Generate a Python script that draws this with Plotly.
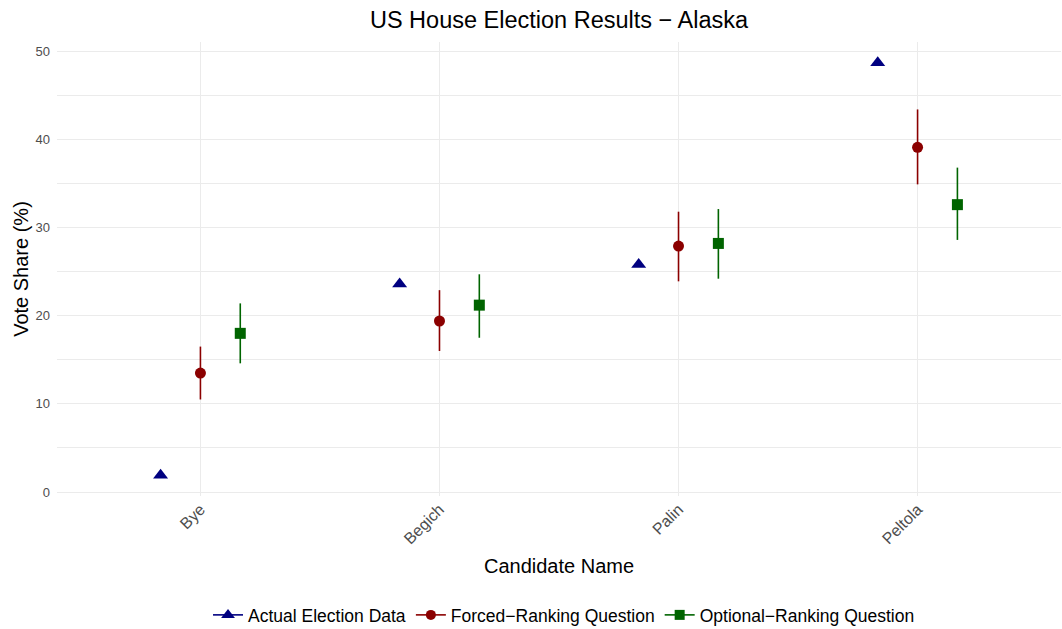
import plotly.graph_objects as go

# Candidates and vote shares (%)
candidates = ["Bye", "Begich", "Palin", "Peltola"]

actual = [1.9, 23.6, 25.8, 48.7]

forced = [13.5, 19.4, 27.9, 39.1]
forced_lo = [10.5, 16.0, 23.9, 34.9]
forced_hi = [16.5, 22.9, 31.8, 43.4]

optional = [18.0, 21.2, 28.2, 32.6]
optional_lo = [14.6, 17.5, 24.2, 28.6]
optional_hi = [21.4, 24.7, 32.1, 36.8]

series_names = ["Actual Election Data", "Forced\u2212Ranking Question", "Optional\u2212Ranking Question"]
colors = ["#000080", "#8B0000", "#006400"]
symbols = ["triangle-up", "circle", "square"]
sizes = [13, 11, 11]
dodge = [-1 / 6, 0.0, 1 / 6]

FONT = "Liberation Sans, Arial, sans-serif"

fig = go.Figure()

base_x = list(range(len(candidates)))


def shifted(off):
    return [x + off for x in base_x]


# Actual results (no interval)
fig.add_trace(go.Scatter(
    x=shifted(dodge[0]), y=actual, mode="markers", showlegend=False,
    marker=dict(symbol=symbols[0], size=sizes[0], color=colors[0], line=dict(width=0)),
    hoverinfo="y",
))

# Survey estimates with intervals
for i, (vals, lo, hi) in enumerate([(forced, forced_lo, forced_hi),
                                     (optional, optional_lo, optional_hi)], start=1):
    fig.add_trace(go.Scatter(
        x=shifted(dodge[i]), y=vals, mode="markers", showlegend=False,
        marker=dict(symbol=symbols[i], size=sizes[i], color=colors[i], line=dict(width=0)),
        error_y=dict(type="data", symmetric=False,
                     array=[h - v for h, v in zip(hi, vals)],
                     arrayminus=[v - l for v, l in zip(vals, lo)],
                     color=colors[i], thickness=1.6, width=0),
        hoverinfo="y",
    ))

# Legend keys (point with line through it)
for i in range(3):
    fig.add_trace(go.Scatter(
        x=[None], y=[None], mode="lines+markers", name=series_names[i],
        marker=dict(symbol=symbols[i], size=sizes[i] - 1, color=colors[i], line=dict(width=0)),
        line=dict(color=colors[i], width=1.6),
    ))

fig.update_layout(
    width=1062, height=629,
    margin=dict(l=57, r=1, t=42, b=133, autoexpand=False),
    paper_bgcolor="white", plot_bgcolor="white",
    font=dict(family=FONT, color="black"),
    title=dict(text="US House Election Results \u2212 Alaska", x=0.5, xref="paper",
               xanchor="center", y=1 - 20 / 629, yanchor="middle",
               font=dict(size=23.5, color="black", family=FONT)),
    xaxis=dict(
        range=[-0.6, 3.6], tickmode="array", tickvals=base_x, ticktext=candidates,
        tickangle=-45, showgrid=True, gridcolor="#EBEBEB", gridwidth=1.2,
        zeroline=False, showline=False, ticks="", automargin=False,
        tickfont=dict(size=16, color="#4D4D4D", family=FONT),
        title=dict(text="Candidate Name", font=dict(size=20, color="black", family=FONT), standoff=12),
    ),
    yaxis=dict(
        range=[-0.45, 51.05], tickmode="linear", tick0=0, dtick=10,
        showgrid=True, gridcolor="#EBEBEB", gridwidth=1.2,
        minor=dict(dtick=5, showgrid=True, gridcolor="#EBEBEB", gridwidth=0.6),
        zeroline=False, showline=False, ticks="", automargin=False,
        tickfont=dict(size=13, color="#4D4D4D", family=FONT),
        ticklabelstandoff=6,
        title=dict(text="Vote Share (%)", font=dict(size=20, color="black", family=FONT), standoff=1),
    ),
    legend=dict(orientation="h", x=0.505, xanchor="center", y=(496 - 615) / 454, yanchor="middle",
                font=dict(size=17.5, color="black", family=FONT), itemwidth=30,
                bgcolor="rgba(0,0,0,0)"),
)

fig.write_html("out.html")
